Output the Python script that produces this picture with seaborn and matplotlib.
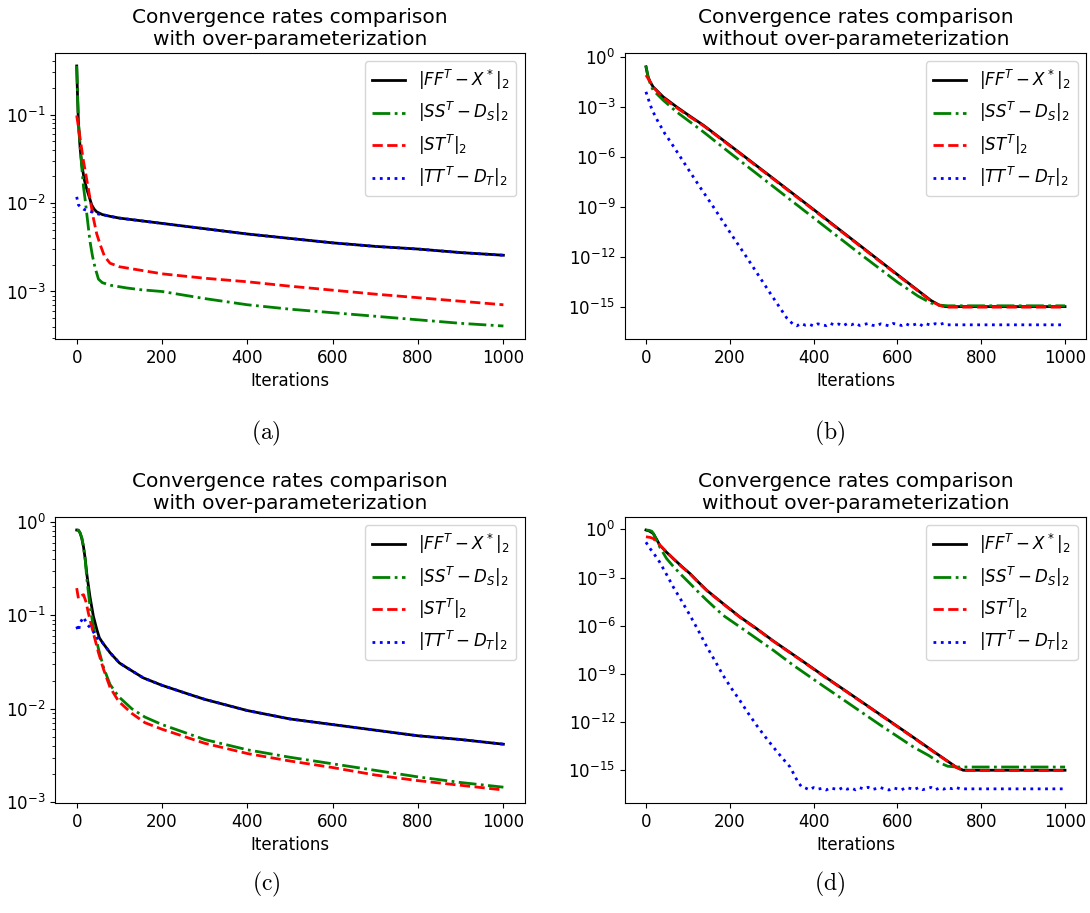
import numpy as np
import matplotlib
matplotlib.use("Agg")
import matplotlib.pyplot as plt
import seaborn as sns

# values, stored as log10 exponents

# (a) with over-parameterization
A_FF_IT = [0, 2, 4, 8, 12, 18, 24, 30, 35, 41, 47, 60, 78, 100, 150, 200, 300, 400, 500, 600, 700, 800, 900, 1000]
A_FF = [-0.45, -0.8, -1.09, -1.38, -1.57, -1.74, -1.85, -1.94, -2.02, -2.07, -2.1, -2.13, -2.15, -2.17, -2.2, -2.23,
        -2.29, -2.35, -2.40, -2.45, -2.49, -2.52, -2.56, -2.59]
A_SS_IT = [0, 4, 8, 12, 16, 20, 25, 31, 37, 43, 51, 60, 80, 117, 150, 200, 300, 400, 500, 600, 700, 800, 900, 1000]
A_SS = [-0.45, -1.09, -1.35, -1.6, -1.82, -1.97, -2.18, -2.43, -2.6, -2.73, -2.86, -2.9, -2.93, -2.96, -2.98, -3.0,
        -3.08, -3.15, -3.2, -3.24, -3.28, -3.32, -3.36, -3.39]
A_ST_IT = [0, 8, 16, 27, 39, 47, 55, 65, 78, 100, 150, 200, 300, 400, 500, 600, 700, 800, 900, 1000]
A_ST = [-1.01, -1.27, -1.53, -1.83, -2.17, -2.35, -2.47, -2.6, -2.68, -2.72, -2.76, -2.8, -2.85, -2.89, -2.94,
        -2.985, -3.03, -3.07, -3.11, -3.15]
A_TT_IT = [0, 4, 10, 16, 35, 51, 60, 78, 100, 150, 200, 300, 400, 500, 600, 700, 800, 900, 1000]
A_TT = [-1.93, -2.02, -2.05, -2.07, -2.1, -2.125, -2.13, -2.15, -2.17, -2.2, -2.23, -2.29, -2.35, -2.40, -2.45,
        -2.49, -2.52, -2.56, -2.59]

# (b) without over-parameterization
B_FF_IT = [0, 5, 10, 17, 41, 73, 105, 137, 200, 300, 400, 500, 600, 680, 700, 715, 1000]
B_FF = [-0.6, -1.2, -1.5, -1.8, -2.4, -3.0, -3.56, -4.1, -5.3, -7.22, -9.15, -11.1, -13.05, -14.6, -14.88,
        -14.97, -14.97]
B_SS_IT = [0, 5, 10, 17, 41, 73, 105, 137, 200, 300, 400, 500, 600, 650, 680, 700, 720, 1000]
B_SS = [-0.55, -1.2, -1.6, -2.0, -2.6, -3.3, -3.9, -4.5, -5.75, -7.7, -9.65, -11.6, -13.5, -14.35, -14.75,
        -14.88, -14.92, -14.92]
B_ST_IT = [0, 5, 10, 17, 41, 73, 105, 137, 200, 300, 400, 500, 600, 680, 700, 718, 1000]
B_ST = [-1.1, -1.3, -1.5, -1.82, -2.45, -3.05, -3.6, -4.13, -5.33, -7.25, -9.18, -11.13, -13.08, -14.63, -14.9,
        -15.0, -15.0]
B_TT_IT = [0, 6, 12, 19, 27, 36, 45, 56, 73, 100, 130, 161, 200, 240, 270, 296, 316, 336]
B_TT = [-2.1, -2.56, -3.0, -3.4, -3.8, -4.2, -4.6, -5.0, -5.65, -6.7, -7.85, -9.0, -10.5, -12.0, -13.15,
        -14.15, -14.9, -15.65]
B_TT_FLOOR_IT = list(range(350, 721, 10)) + [1000]
B_TT_FLOOR = [-16.0, -16.12, -15.98, -16.08, -16.03, -16.13, -16.0, -16.06, -16.11, -15.97,
              -16.08, -16.01, -16.12, -15.99, -16.06, -15.96, -16.1, -16.04, -15.98, -16.08,
              -16.13, -16.0, -16.06, -16.12, -15.98, -16.03, -16.1, -15.99, -16.11, -16.05,
              -15.97, -16.12, -16.01, -16.08, -15.99, -16.05, -15.97, -16.06, -16.06]

# (c) with over-parameterization
C_FF_IT = [0, 4, 8, 12, 16, 20, 24, 31, 39, 47, 53, 60, 78, 100, 117, 156, 200, 266, 300, 400, 500, 600, 700,
           800, 900, 1000]
C_FF = [-0.088, -0.09, -0.12, -0.18, -0.27, -0.4, -0.57, -0.8, -1.01, -1.15, -1.24, -1.29, -1.4, -1.51, -1.56,
        -1.67, -1.75, -1.85, -1.9, -2.02, -2.11, -2.17, -2.23, -2.29, -2.33, -2.38]
C_SS_IT = [0, 4, 8, 12, 16, 20, 24, 31, 39, 51, 63, 78, 98, 129, 160, 200, 300, 400, 500, 600, 700, 800, 900, 1000]
C_SS = [-0.088, -0.09, -0.12, -0.17, -0.27, -0.41, -0.62, -0.9, -1.12, -1.36, -1.56, -1.74, -1.87, -2.0, -2.09,
        -2.17, -2.33, -2.44, -2.52, -2.59, -2.66, -2.73, -2.79, -2.84]
C_ST_IT = [0, 4, 10, 16, 22, 27, 35, 43, 51, 63, 78, 98, 129, 160, 200, 300, 400, 500, 600, 700, 800, 900, 1000]
C_ST = [-0.71, -0.82, -0.79, -0.78, -0.86, -0.97, -1.12, -1.26, -1.4, -1.58, -1.77, -1.92, -2.05, -2.15, -2.22,
        -2.37, -2.48, -2.56, -2.63, -2.71, -2.77, -2.82, -2.87]
C_TT_IT = [0, 4, 8, 16, 25, 35, 45, 55, 60, 78, 100, 117, 156, 200, 266, 300, 400, 500, 600, 700, 800, 900, 1000]
C_TT = [-1.12, -1.17, -1.08, -1.02, -1.1, -1.15, -1.22, -1.27, -1.29, -1.4, -1.51, -1.56, -1.67, -1.75, -1.85,
        -1.9, -2.02, -2.11, -2.17, -2.23, -2.29, -2.33, -2.38]

# (d) without over-parameterization
D_FF_IT = [0, 8, 17, 25, 33, 49, 65, 85, 105, 125, 145, 184, 224, 264, 304, 368, 420, 479, 560, 638, 690, 718,
           740, 757, 1000]
D_FF = [-0.04, -0.1, -0.25, -0.6, -0.98, -1.42, -1.81, -2.3, -2.75, -3.28, -3.79, -4.62, -5.45, -6.18, -6.95,
        -8.1, -9.05, -10.1, -11.55, -12.95, -13.9, -14.4, -14.8, -15.0, -15.0]
D_SS_IT = [0, 8, 14, 20, 25, 33, 49, 65, 85, 105, 125, 145, 184, 224, 264, 304, 352, 420, 479, 560, 638, 676,
           702, 720, 740, 1000]
D_SS = [-0.04, -0.06, -0.12, -0.35, -0.67, -1.1, -1.81, -2.3, -2.85, -3.37, -3.9, -4.41, -5.35, -6.07, -6.8,
        -7.53, -8.47, -9.7, -10.75, -12.2, -13.55, -14.1, -14.55, -14.75, -14.8, -14.8]
D_ST_IT = [0, 10, 17, 29, 49, 65, 85, 105, 125, 145, 184, 224, 264, 304, 368, 420, 479, 560, 638, 690, 718, 740,
           757, 1000]
D_ST = [-0.46, -0.5, -0.56, -0.87, -1.4, -1.83, -2.32, -2.77, -3.3, -3.81, -4.64, -5.47, -6.2, -6.97, -8.12,
        -9.07, -10.12, -11.57, -12.97, -13.92, -14.42, -14.82, -15.02, -15.02]
D_TT_IT = [0, 10, 20, 33, 49, 65, 85, 105, 125, 145, 165, 184, 204, 224, 244, 264, 284, 304, 324, 344, 355, 363,
           372]
D_TT = [-0.8, -1.2, -1.55, -2.05, -2.8, -3.58, -4.45, -5.35, -6.3, -7.3, -8.2, -9.09, -9.9, -10.65, -11.45,
        -12.2, -12.9, -13.56, -14.2, -14.8, -15.35, -15.75, -16.05]
D_TT_FLOOR_IT = list(range(380, 751, 10)) + [1000]
D_TT_FLOOR = [-16.1, -16.22, -16.08, -16.18, -16.13, -16.23, -16.1, -16.16, -16.21, -16.07,
              -16.18, -16.11, -16.22, -16.09, -16.16, -16.06, -16.2, -16.14, -16.08, -16.18,
              -16.23, -16.1, -16.16, -16.22, -16.08, -16.13, -16.2, -16.09, -16.21, -16.15,
              -16.07, -16.22, -16.11, -16.18, -16.09, -16.15, -16.07, -16.16, -16.16]

LABELS = [r'$|FF^T - X^*|_2$', r'$|SS^T - D_S|_2$', r'$|ST^T|_2$', r'$|TT^T - D_T|_2$']
STYLES = [('black', '-'), ('green', '-.'), ('red', '--'), ('blue', ':')]
TITLE_WITH = 'Convergence rates comparison\nwith over-parameterization'
TITLE_WITHOUT = 'Convergence rates comparison\nwithout over-parameterization'
WIDE_YTICKS = [1e0, 1e-3, 1e-6, 1e-9, 1e-12, 1e-15]


def draw(ax, series, title, yticks=None):
    for (it, lg), label, (color, ls) in zip(series, LABELS, STYLES):
        sns.lineplot(x=it, y=10.0 ** np.asarray(lg), ax=ax, color=color, linestyle=ls,
                     linewidth=2, label=label, estimator=None, sort=False)
    ax.set_yscale('log')
    if yticks is not None:
        ax.set_yticks(yticks)
    ax.set_title(title, fontsize=14.5)
    ax.set_xlabel('Iterations', fontsize=12)
    ax.set_ylabel('')
    ax.set_xticks([0, 200, 400, 600, 800, 1000])
    ax.tick_params(labelsize=12)
    ax.legend(loc='upper right', fontsize=12)


fig = plt.figure(figsize=(10.9, 9.13), dpi=100)
ax_a = fig.add_axes([0.0508, 0.6287, 0.4306, 0.3133])
ax_b = fig.add_axes([0.5734, 0.6287, 0.4229, 0.3133])
ax_c = fig.add_axes([0.0508, 0.1205, 0.4306, 0.3132])
ax_d = fig.add_axes([0.5734, 0.1205, 0.4229, 0.3132])

draw(ax_a, [(A_FF_IT, A_FF), (A_SS_IT, A_SS), (A_ST_IT, A_ST), (A_TT_IT, A_TT)], TITLE_WITH)
draw(ax_b, [(B_FF_IT, B_FF), (B_SS_IT, B_SS), (B_ST_IT, B_ST),
            (B_TT_IT + B_TT_FLOOR_IT, B_TT + B_TT_FLOOR)], TITLE_WITHOUT, WIDE_YTICKS)
draw(ax_c, [(C_FF_IT, C_FF), (C_SS_IT, C_SS), (C_ST_IT, C_ST), (C_TT_IT, C_TT)], TITLE_WITH)
draw(ax_d, [(D_FF_IT, D_FF), (D_SS_IT, D_SS), (D_ST_IT, D_ST),
            (D_TT_IT + D_TT_FLOOR_IT, D_TT + D_TT_FLOOR)], TITLE_WITHOUT, WIDE_YTICKS)

# sub-captions
for xf, yf, tag in [(266, 433, 'a'), (830, 433, 'b'), (266, 884, 'c'), (830, 884, 'd')]:
    fig.text(xf / 1090, 1 - yf / 913, r'$\mathrm{(' + tag + ')}$', math_fontfamily='cm',
             ha='center', va='center', fontsize=17)

fig.savefig('out.png', dpi=100)
